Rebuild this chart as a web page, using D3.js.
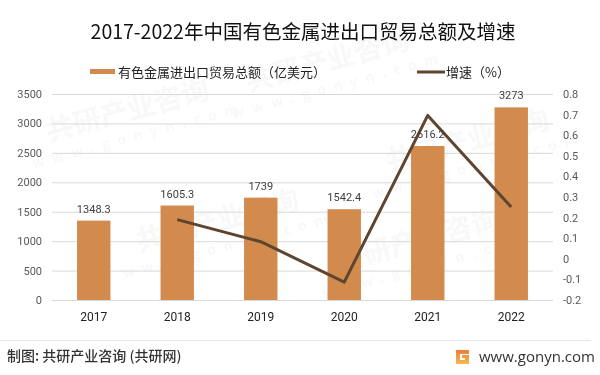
<!DOCTYPE html>
<html><head><meta charset="utf-8">
<script src="https://cdn.jsdelivr.net/npm/d3@7"></script>
<style>
html,body{margin:0;padding:0;background:#fff;}
svg{display:block;font-family:"Noto Sans CJK SC","Noto Sans",sans-serif;}
</style></head>
<body><svg id="c" width="600" height="375"></svg>
<script>
const years = ["2017","2018","2019","2020","2021","2022"];
const amounts = [1348.3, 1605.3, 1739, 1542.4, 2616.2, 3273];
const amountLabels = ["1348.3","1605.3","1739","1542.4","2616.2","3273"];
const growth = [null, 0.19, 0.083, -0.113, 0.696, 0.251];
const leftTicks = [0,500,1000,1500,2000,2500,3000,3500];
const rightTicks = [-0.2,-0.1,0,0.1,0.2,0.3,0.4,0.5,0.6,0.7,0.8];
const titleText = "2017-2022年中国有色金属进出口贸易总额及增速";
const legendBar = "有色金属进出口贸易总额（亿美元）";
const legendLine = "增速（%）";
const sourceText = "制图: 共研产业咨询 (共研网)";
const siteText = "www.gonyn.com";

const svg = d3.select("#c");
const barColor = "#D38B4D", lineColor = "#5E4530";

// faint watermarks
const wm = svg.append("g").attr("fill","#000").attr("opacity",0.03).attr("font-weight","bold");
[[130,120],[330,70],[470,150],[220,230],[420,250]].forEach(([x,y])=>{
  wm.append("text").attr("transform",`translate(${x},${y}) rotate(-15)`).attr("font-size",28).attr("text-anchor","middle").text("共研产业咨询");
  wm.append("text").attr("transform",`translate(${x+10},${y+20}) rotate(-15)`).attr("font-size",14).attr("letter-spacing","8px").attr("text-anchor","middle").text("www.gonyn.com");
});

const x = d3.scaleBand().domain(years).range([52,553]).paddingInner(0.6).paddingOuter(0.3);
const yL = d3.scaleLinear().domain([0,3500]).range([300,94]);
const yR = d3.scaleLinear().domain([-0.2,0.8]).range([300,94]);

// gridlines
svg.append("g").selectAll("line").data(leftTicks).join("line")
  .attr("x1",52).attr("x2",553).attr("y1",d=>yL(d)+0.5).attr("y2",d=>yL(d)+0.5)
  .attr("stroke","#d9d9d9").attr("stroke-width",1);

// left axis
const axL = svg.append("g").attr("transform","translate(52,0)")
  .call(d3.axisLeft(yL).tickValues(leftTicks).tickSize(0).tickPadding(10).tickFormat(d3.format("d")));
axL.select(".domain").remove();
axL.selectAll("text").attr("font-size",11).attr("fill","#595959").attr("font-family","Roboto, 'Noto Sans', sans-serif");

// right axis
const axR = svg.append("g").attr("transform","translate(553,0)")
  .call(d3.axisRight(yR).tickValues(rightTicks).tickSize(0).tickPadding(10).tickFormat(d=>String(+d.toFixed(1))));
axR.select(".domain").remove();
axR.selectAll("text").attr("font-size",11).attr("fill","#595959").attr("font-family","Roboto, 'Noto Sans', sans-serif");

// x axis
const axX = svg.append("g").attr("transform","translate(0,300)")
  .call(d3.axisBottom(x).tickSize(0).tickPadding(12));
axX.select(".domain").remove();
axX.selectAll("text").attr("font-size",12).attr("fill","#222").attr("font-family","Roboto, 'Noto Sans', sans-serif");

// bars
svg.append("g").selectAll("rect").data(years).join("rect")
  .attr("x",d=>x(d)).attr("width",x.bandwidth())
  .attr("y",(d,i)=>yL(amounts[i])).attr("height",(d,i)=>300-yL(amounts[i]))
  .attr("fill",barColor);

// line
const pts = years.map((d,i)=>({d,v:growth[i]})).filter(p=>p.v!==null);
svg.append("path").datum(pts)
  .attr("d",d3.line().x(p=>x(p.d)+x.bandwidth()/2).y(p=>yR(p.v)))
  .attr("fill","none").attr("stroke",lineColor).attr("stroke-width",3).attr("stroke-linejoin","round");

// data labels
svg.append("g").selectAll("text").data(years).join("text")
  .attr("x",d=>x(d)+x.bandwidth()/2).attr("y",(d,i)=>yL(amounts[i])-8)
  .attr("text-anchor","middle").attr("font-size",11).attr("fill","#404040")
  .attr("font-family","Roboto, 'Noto Sans', sans-serif")
  .text((d,i)=>amountLabels[i]);

// title
svg.append("text").attr("x",303).attr("y",39).attr("text-anchor","middle")
  .attr("font-size",19.5).attr("fill","#111").text(titleText);

// legend
svg.append("rect").attr("x",90).attr("y",69).attr("width",25).attr("height",5).attr("fill",barColor);
svg.append("text").attr("x",118).attr("y",76.5).attr("font-size",13).attr("fill","#222").text(legendBar);
svg.append("line").attr("x1",417).attr("x2",445).attr("y1",72).attr("y2",72).attr("stroke",lineColor).attr("stroke-width",3);
svg.append("text").attr("x",446).attr("y",76.5).attr("font-size",13).attr("fill","#222").text(legendLine);

// footer
svg.append("line").attr("x1",0).attr("x2",591).attr("y1",340.5).attr("y2",340.5).attr("stroke","#e6e6e6");
svg.append("text").attr("x",7).attr("y",361).attr("font-size",14).attr("fill","#333").attr("font-weight","500").text(sourceText);
const logo = svg.append("g").attr("transform","translate(456,350)");
const grad = svg.append("defs").append("linearGradient").attr("id","lg").attr("x1","0").attr("y1","0").attr("x2","0").attr("y2","1");
grad.append("stop").attr("offset","0").attr("stop-color","#F07B3F");
grad.append("stop").attr("offset","1").attr("stop-color","#F7B94C");
logo.append("path").attr("d","M0,0 H13 V4 H4 V10 H9 V8 H6 V5 H13 V14 H0 Z").attr("fill","url(#lg)");
svg.append("text").attr("x",479).attr("y",362).attr("font-size",15).attr("fill","#333")
  .attr("font-family","'Open Sans','Noto Sans',sans-serif").text(siteText);
</script></body></html>
